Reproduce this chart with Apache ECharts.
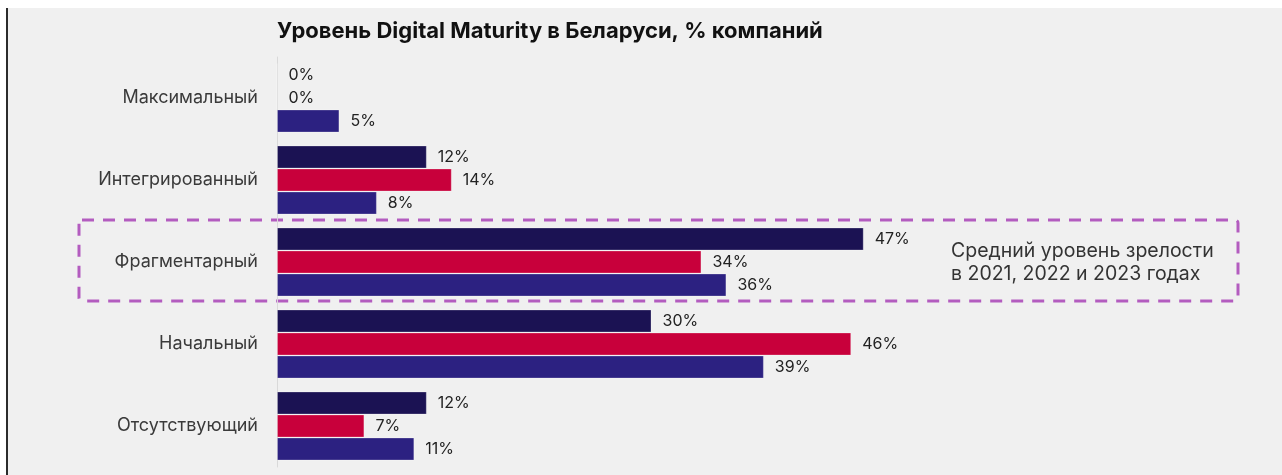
<!DOCTYPE html>
<html>
<head>
<meta charset="utf-8">
<script src="https://cdn.jsdelivr.net/npm/echarts@6/dist/echarts.min.js"></script>
<style>
  html, body {
    margin: 0;
    padding: 0;
    width: 1282px;
    height: 475px;
    background: #ffffff;
    overflow: hidden;
  }
  .panel {
    position: absolute;
    left: 6px;
    top: 8px;
    right: 0;
    bottom: 0;
    background: #f0f0f0;
    border-left: 2px solid #2b2b2b;
  }
  #chart {
    position: absolute;
    left: 0;
    top: 0;
    width: 1282px;
    height: 475px;
  }
</style>
</head>
<body>
<div class="panel"></div>
<div id="chart"></div>
<script>
// данные с картинки
const categories = ["Максимальный", "Интегрированный", "Фрагментарный", "Начальный", "Отсутствующий"];
const years = ["2021", "2022", "2023"];
const values2021 = [0, 12, 47, 30, 12];
const values2022 = [0, 14, 34, 46, 7];
const values2023 = [5, 8, 36, 39, 11];
const colors = ["#1b1253", "#c8003b", "#2c2181"];
const highlightCategory = "Фрагментарный";
const noteText = "Средний уровень зрелости\nв 2021, 2022 и 2023 годах";

const fontFamily = "Inter, 'Noto Sans', sans-serif";

const chart = echarts.init(document.getElementById("chart"));

const makeSeries = (name, data, color) => ({
  name: name,
  type: "bar",
  data: data,
  barWidth: 23,
  barGap: "0%",
  itemStyle: {
    color: color,
    borderColor: "rgba(255,255,255,0.25)",
    borderWidth: 1
  },
  label: {
    show: true,
    position: "right",
    distance: 11,
    formatter: "{c}%",
    color: "#222222",
    fontSize: 16,
    fontFamily: fontFamily
  },
  emphasis: { disabled: true }
});

const option = {
  animation: false,
  backgroundColor: "transparent",
  title: {
    text: "Уровень Digital Maturity в Беларуси, % компаний",
    left: 277,
    top: 20,
    padding: 0,
    textStyle: {
      fontFamily: fontFamily,
      fontSize: 22,
      fontWeight: "bold",
      color: "#111111"
    }
  },
  grid: {
    left: 277,
    right: 256,
    top: 57,
    bottom: 8,
    containLabel: false
  },
  xAxis: {
    type: "value",
    min: 0,
    max: 60,
    show: false
  },
  yAxis: {
    type: "category",
    data: categories,
    inverse: true,
    axisLine: { show: true, lineStyle: { color: "#d9d9d9", width: 1 } },
    axisTick: { show: false },
    axisLabel: {
      margin: 19,
      fontSize: 18,
      color: "#3a3a3a",
      fontFamily: fontFamily
    }
  },
  series: [
    makeSeries(years[0], values2021, colors[0]),
    makeSeries(years[1], values2022, colors[1]),
    makeSeries(years[2], values2023, colors[2])
  ]
};

chart.setOption(option);

// пунктирная рамка вокруг «Фрагментарный»
const cy = chart.convertToPixel({ yAxisIndex: 0 }, highlightCategory);
chart.setOption({
  graphic: [
    {
      type: "rect",
      shape: { x: 79, y: cy - 42, width: 1159, height: 81, r: 3 },
      style: {
        fill: "none",
        stroke: "#b35cbf",
        lineWidth: 3,
        lineDash: [12, 9]
      },
      silent: true
    },
    {
      type: "text",
      x: 951,
      y: cy + 1,
      style: {
        text: noteText,
        fontSize: 19.5,
        lineHeight: 23,
        fill: "#333333",
        fontFamily: fontFamily,
        verticalAlign: "middle",
        align: "left"
      },
      silent: true
    }
  ]
});

window.addEventListener("resize", () => chart.resize());
</script>
</body>
</html>
